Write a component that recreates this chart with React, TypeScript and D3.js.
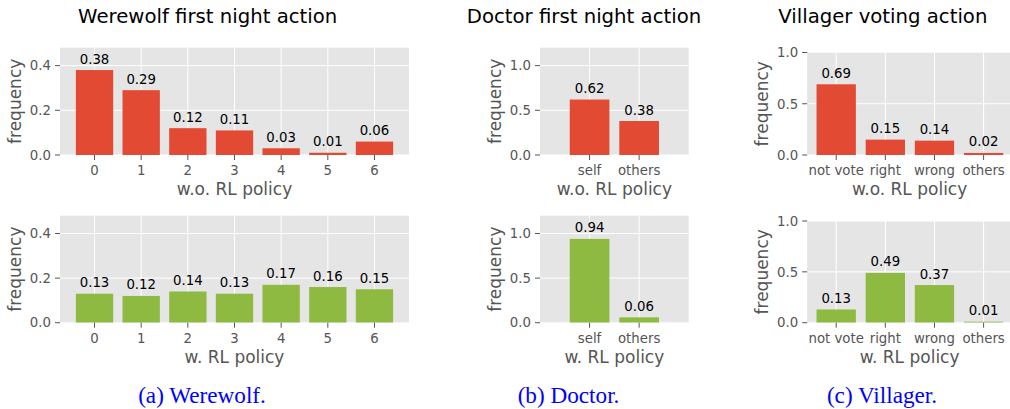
import React from "react";
import * as d3 from "d3";

// ---------- data ----------
const werewolfCategories = ["0", "1", "2", "3", "4", "5", "6"];
const werewolfWithoutRL = [0.38, 0.29, 0.12, 0.11, 0.03, 0.01, 0.06];
const werewolfWithRL = [0.13, 0.12, 0.14, 0.13, 0.17, 0.16, 0.15];

const doctorCategories = ["self", "others"];
const doctorWithoutRL = [0.62, 0.38];
const doctorWithRL = [0.94, 0.06];

const villagerCategories = ["not vote", "right", "wrong", "others"];
const villagerWithoutRL = [0.69, 0.15, 0.14, 0.02];
const villagerWithRL = [0.13, 0.49, 0.37, 0.01];

const werewolfYTicks = [0, 0.2, 0.4];
const doctorYTicks = [0, 0.5, 1.0];
const villagerYTicks = [0, 0.5, 1.0];

const titles = ["Werewolf first night action", "Doctor first night action", "Villager voting action"];
const captions = ["(a) Werewolf.", "(b) Doctor.", "(c) Villager."];
const xLabelTop = "w.o. RL policy";
const xLabelBottom = "w. RL policy";
const yLabel = "frequency";

// ---------- styles ----------
const RED = "#E24A33";
const GREEN = "#8EBA42";
const BG = "#E5E5E5";
const GRAY = "#555555";
const FONT = "DejaVu Sans, sans-serif";
const fmtTick = d3.format(".1f");
const fmtVal = d3.format(".2f");

type PanelProps = {
  x0: number;
  x1: number;
  yTop: number;
  yBottom: number;
  xlim: [number, number];
  ymax: number;
  yticks: number[];
  categories: string[];
  values: number[];
  color: string;
  xlabel: string;
};

function Panel(p: PanelProps) {
  const x = d3.scaleLinear().domain(p.xlim).range([p.x0, p.x1]);
  const y = d3.scaleLinear().domain([0, p.ymax]).range([p.yBottom, p.yTop]);
  const idx = d3.range(p.categories.length);
  const bw = x(0.8) - x(0);
  const clipId = `clip-${Math.round(p.x0)}-${Math.round(p.yTop)}`;
  return (
    <g>
      <defs>
        <clipPath id={clipId}>
          <rect x={p.x0} y={p.yTop} width={p.x1 - p.x0} height={p.yBottom - p.yTop} />
        </clipPath>
      </defs>
      <rect x={p.x0} y={p.yTop} width={p.x1 - p.x0} height={p.yBottom - p.yTop} fill={BG} />
      <g clipPath={`url(#${clipId})`}>
        {idx.map((i) => (
          <line key={"vg" + i} x1={x(i)} x2={x(i)} y1={p.yTop} y2={p.yBottom} stroke="#fff" strokeWidth={1} />
        ))}
        {p.yticks.map((t) => (
          <line key={"hg" + t} x1={p.x0} x2={p.x1} y1={y(t)} y2={y(t)} stroke="#fff" strokeWidth={1} />
        ))}
        {idx.map((i) => (
          <rect
            key={"b" + i}
            x={x(i) - bw / 2}
            y={y(p.values[i])}
            width={bw}
            height={y(0) - y(p.values[i])}
            fill={p.color}
          />
        ))}
      </g>
      {idx.map((i) => (
        <text
          key={"v" + i}
          x={x(i)}
          y={y(p.values[i]) - 6.5}
          textAnchor="middle"
          fontFamily={FONT}
          fontSize={13.3}
          fill="#000"
        >
          {fmtVal(p.values[i])}
        </text>
      ))}
      {/* y axis ticks */}
      {p.yticks.map((t) => (
        <g key={"yt" + t}>
          <line x1={p.x0 - 5} x2={p.x0} y1={y(t)} y2={y(t)} stroke={GRAY} strokeWidth={1} />
          <text
            x={p.x0 - 9}
            y={y(t)}
            dy="0.36em"
            textAnchor="end"
            fontFamily={FONT}
            fontSize={13.3}
            fill={GRAY}
          >
            {fmtTick(t)}
          </text>
        </g>
      ))}
      {/* x axis ticks */}
      {idx.map((i) => (
        <g key={"xt" + i}>
          <line x1={x(i)} x2={x(i)} y1={p.yBottom} y2={p.yBottom + 5} stroke={GRAY} strokeWidth={1} />
          <text
            x={x(i)}
            y={p.yBottom + 20}
            textAnchor="middle"
            fontFamily={FONT}
            fontSize={13.3}
            fill={GRAY}
          >
            {p.categories[i]}
          </text>
        </g>
      ))}
      <text
        x={(p.x0 + Math.min(p.x1, 1012)) / 2}
        y={p.yBottom + 39.8}
        textAnchor="middle"
        fontFamily={FONT}
        fontSize={17}
        fill={GRAY}
      >
        {p.xlabel}
      </text>
      <text
        transform={`translate(${p.x0 - 39.5},${(p.yTop + p.yBottom) / 2}) rotate(-90)`}
        textAnchor="middle"
        fontFamily={FONT}
        fontSize={17}
        fill={GRAY}
      >
        {yLabel}
      </text>
    </g>
  );
}

export default function App() {
  const W = 1010;
  const H = 409;
  const cols = [
    {
      x0: 60,
      x1: 409,
      xlim: [-0.74, 6.74] as [number, number],
      ymax: 0.48,
      yticks: werewolfYTicks,
      cats: werewolfCategories,
      top: werewolfWithoutRL,
      bottom: werewolfWithRL,
      topY: 47.7,
      botY: 215.7,
      titleX: 207.7,
      capX: 202,
    },
    {
      x0: 540,
      x1: 688.7,
      xlim: [-1, 2] as [number, number],
      ymax: 1.2,
      yticks: doctorYTicks,
      cats: doctorCategories,
      top: doctorWithoutRL,
      bottom: doctorWithRL,
      topY: 47.7,
      botY: 215.7,
      titleX: 584,
      capX: 568.5,
    },
    {
      x0: 807.2,
      x1: 1012.6,
      xlim: [-0.59, 3.59] as [number, number],
      ymax: 1.0,
      yticks: villagerYTicks,
      cats: villagerCategories,
      top: villagerWithoutRL,
      bottom: villagerWithRL,
      topY: 52.5,
      botY: 221,
      titleX: 882.8,
      capX: 882,
    },
  ];
  return (
    <svg
      width={W}
      height={H}
      viewBox={`0 0 ${W} ${H}`}
      style={{ position: "absolute", left: 0, top: 0, display: "block", background: "#fff" }}
    >
      <rect x={0} y={0} width={W} height={H} fill="#fff" />
      {cols.map((c, k) => (
        <g key={k}>
          <text x={c.titleX} y={22.7} textAnchor="middle" fontFamily={FONT} fontSize={19.7} fill="#000">
            {titles[k]}
          </text>
          <Panel
            x0={c.x0}
            x1={c.x1}
            yTop={c.topY}
            yBottom={155}
            xlim={c.xlim}
            ymax={c.ymax}
            yticks={c.yticks}
            categories={c.cats}
            values={c.top}
            color={RED}
            xlabel={xLabelTop}
          />
          <Panel
            x0={c.x0}
            x1={c.x1}
            yTop={c.botY}
            yBottom={322.7}
            xlim={c.xlim}
            ymax={c.ymax}
            yticks={c.yticks}
            categories={c.cats}
            values={c.bottom}
            color={GREEN}
            xlabel={xLabelBottom}
          />
          <text
            x={c.capX}
            y={402.5}
            textAnchor="middle"
            fontFamily="Liberation Serif, Times New Roman, serif"
            fontSize={23.2}
            fill="#0000FF"
          >
            {captions[k]}
          </text>
        </g>
      ))}
    </svg>
  );
}
